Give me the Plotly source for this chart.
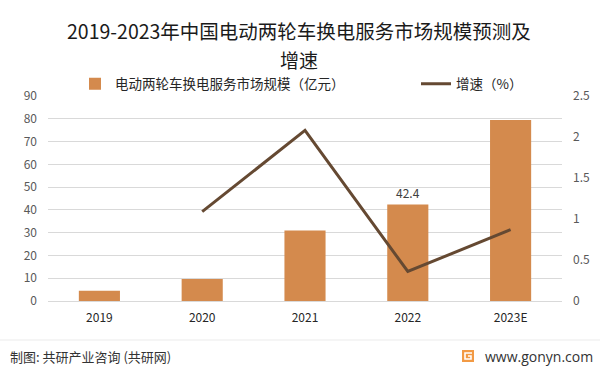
import plotly.graph_objects as go

years = ["2019", "2020", "2021", "2022", "2023E"]
market_size = [4.5, 9.7, 30.9, 42.4, 79.5]          # 亿元
growth = [None, 1.09, 2.08, 0.36, 0.87]             # 增速
labelled = ["2022"]

W, H = 600, 371
ML, MR, MT, MB = 48, 38, 96, 70
PW, PH = W - ML - MR, H - MT - MB

def px(x):
    return (x - ML) / PW

def py(y):
    return (H - MB - y) / PH

FONT = "Noto Sans CJK SC"
BAR_COLOR = "#D48A4D"
LINE_COLOR = "#654932"

bar_text = [f"{v}" if c in labelled else "" for c, v in zip(years, market_size)]

fig = go.Figure()
fig.add_trace(go.Bar(
    x=years, y=market_size, name="电动两轮车换电服务市场规模（亿元）",
    marker=dict(color=BAR_COLOR, line=dict(width=0)),
    text=bar_text, textposition="outside", cliponaxis=False,
    textfont=dict(size=12, color="#404040", family=FONT),
    legend="legend",
))
fig.add_trace(go.Scatter(
    x=years, y=growth, name="增速（%）", mode="lines",
    line=dict(color=LINE_COLOR, width=3), yaxis="y2",
    legend="legend2",
))

fig.update_layout(
    width=W, height=H,
    margin=dict(l=ML, r=MR, t=MT, b=MB, autoexpand=False),
    paper_bgcolor="white", plot_bgcolor="white",
    font=dict(family=FONT, color="#404040"),
    bargap=0.6,
    showlegend=True,
    legend=dict(orientation="h", x=px(75), xanchor="left", y=py(84), yanchor="middle",
                font=dict(size=13.5, color="#262626", family=FONT), bgcolor="rgba(0,0,0,0)"),
    legend2=dict(orientation="h", x=px(416), xanchor="left", y=py(84), yanchor="middle",
                 font=dict(size=13.5, color="#262626", family=FONT), bgcolor="rgba(0,0,0,0)"),
    xaxis=dict(showgrid=False, showline=True, linecolor="#D9D9D9", linewidth=1,
               ticks="", tickfont=dict(size=12, color="#262626", family=FONT),
               ticklabelstandoff=6),
    yaxis=dict(range=[0, 90], dtick=10, showgrid=True, gridcolor="#D9D9D9", gridwidth=1,
               zeroline=False, showline=False, ticks="",
               tickfont=dict(size=12, color="#595959", family=FONT), ticklabelstandoff=10),
    yaxis2=dict(range=[0, 2.5], dtick=0.5, overlaying="y", side="right", showgrid=False,
                zeroline=False, showline=False, ticks="",
                tickfont=dict(size=12, color="#595959", family=FONT), ticklabelstandoff=10),
)

annotations = [
    dict(text="2019-2023年中国电动两轮车换电服务市场规模预测及", x=px(299), y=py(31),
         font=dict(size=19.5, color="#1a1a1a", family=FONT)),
    dict(text="增速", x=px(299), y=py(59), font=dict(size=19, color="#1a1a1a", family=FONT)),
    dict(text="制图: 共研产业咨询 (共研网)", x=px(8), y=py(356), xanchor="left",
         font=dict(size=13, color="#333333", family=FONT)),
    dict(text="www.gonyn.com", x=px(595), y=py(356), xanchor="right",
         font=dict(size=14, color="#333333", family="Open Sans")),
]
for a in annotations:
    a.setdefault("xanchor", "center")
    a.update(xref="paper", yref="paper", yanchor="middle", showarrow=False)
fig.update_layout(annotations=annotations)

fig.add_shape(type="line", xref="paper", yref="paper", x0=px(0), x1=px(600), y0=py(340), y1=py(340),
              line=dict(color="#EBEBEB", width=1))
fig.add_shape(type="rect", xref="paper", yref="paper", x0=px(462), x1=px(474), y0=py(362), y1=py(350),
              fillcolor="#F29A45", line=dict(width=0))
fig.add_shape(type="path", xref="paper", yref="paper",
              path=f"M{px(472)},{py(353)} L{px(465)},{py(353)} L{px(465)},{py(359)} L{px(471)},{py(359)} L{px(471)},{py(356)} L{px(468)},{py(356)}",
              line=dict(color="white", width=1.6))

fig.write_html("out.html", config={"displayModeBar": False},
               post_script="document.body.style.margin='0';document.body.style.overflow='hidden';")
